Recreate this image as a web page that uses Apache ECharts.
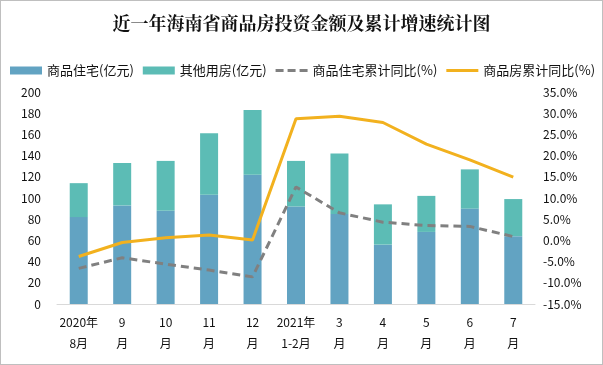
<!DOCTYPE html>
<html><head><meta charset="utf-8">
<script src="https://cdn.jsdelivr.net/npm/echarts@6/dist/echarts.min.js"></script>
<style>html,body{margin:0;padding:0;background:#fff}#c{width:601px;height:363px;border:1px solid #BFBFBF}</style>
</head><body><div id="c"></div>
<script>
var categories = ['2020年\n8月','9\n月','10\n月','11\n月','12\n月','2021年\n1-2月','3\n月','4\n月','5\n月','6\n月','7\n月'];
var residential = [82, 93, 88, 103, 122, 92, 85, 56, 68, 90, 64];
var otherHousing = [32, 40, 47, 58, 61, 43, 57, 38, 34, 37, 35];
var residentialYoY = [-6.6, -4.1, -5.6, -7.0, -8.6, 12.6, 6.5, 4.3, 3.5, 3.3, 0.9];
var housingYoY = [-3.8, -0.5, 0.6, 1.3, 0.1, 28.7, 29.3, 27.8, 22.7, 19.0, 14.9];
var leftTicks = {min:0, max:200, interval:20};
var rightTicks = {min:-15, max:35, interval:5};

var chart = echarts.init(document.getElementById('c'));
var font = '"Noto Sans CJK SC", "Noto Sans", sans-serif';
chart.setOption({
  animation:false,
  textStyle:{fontFamily:font},
  title:{text:'近一年海南省商品房投资金额及累计增速统计图', left:'center', top:8,
    textStyle:{fontSize:18, fontWeight:'bold', color:'#111', fontFamily:'"Noto Serif CJK SC","Noto Sans CJK SC",serif'}},
  legend:{left:4, top:58, width:600, itemWidth:32, itemHeight:8, itemGap:9, symbolKeepAspect:true,
    textStyle:{fontSize:13, color:'#111'},
    data:[{name:'商品住宅(亿元)', icon:'rect'},{name:'其他用房(亿元)', icon:'rect'},
          {name:'商品住宅累计同比(%)', icon:'path://M0,0h8v3h-8zM12,0h8v3h-8zM24,0h8v3h-8z'},
          {name:'商品房累计同比(%)', icon:'path://M0,0h32v3h-32z'}]},
  grid:{left:56, right:67, top:91, bottom:60},
  xAxis:{type:'category', data:categories,
    axisLine:{lineStyle:{color:'#D9D9D9'}}, axisTick:{show:false},
    axisLabel:{color:'#111', fontSize:12, lineHeight:21, interval:0, margin:8}},
  yAxis:[
    {type:'value', min:leftTicks.min, max:leftTicks.max, interval:leftTicks.interval,
     splitLine:{show:false}, axisLine:{show:false}, axisTick:{show:false},
     axisLabel:{color:'#111', fontSize:12, margin:16}},
    {type:'value', min:rightTicks.min, max:rightTicks.max, interval:rightTicks.interval,
     splitLine:{show:false}, axisLine:{show:false}, axisTick:{show:false},
     axisLabel:{color:'#111', fontSize:12, margin:8, formatter:function(v){return v.toFixed(1)+'%';}}}
  ],
  series:[
    {name:'商品住宅(亿元)', type:'bar', stack:'a', data:residential, barWidth:18, itemStyle:{color:'#62A3C2'}},
    {name:'其他用房(亿元)', type:'bar', stack:'a', data:otherHousing, barWidth:18, itemStyle:{color:'#5CBCB5'}},
    {name:'商品住宅累计同比(%)', type:'line', yAxisIndex:1, data:residentialYoY, symbol:'none',
     lineStyle:{color:'#808080', width:3, type:[8,5]}, itemStyle:{color:'#808080'}},
    {name:'商品房累计同比(%)', type:'line', yAxisIndex:1, data:housingYoY, symbol:'none',
     lineStyle:{color:'#F2B11E', width:3}, itemStyle:{color:'#F2B11E'}}
  ]
});
</script></body></html>
